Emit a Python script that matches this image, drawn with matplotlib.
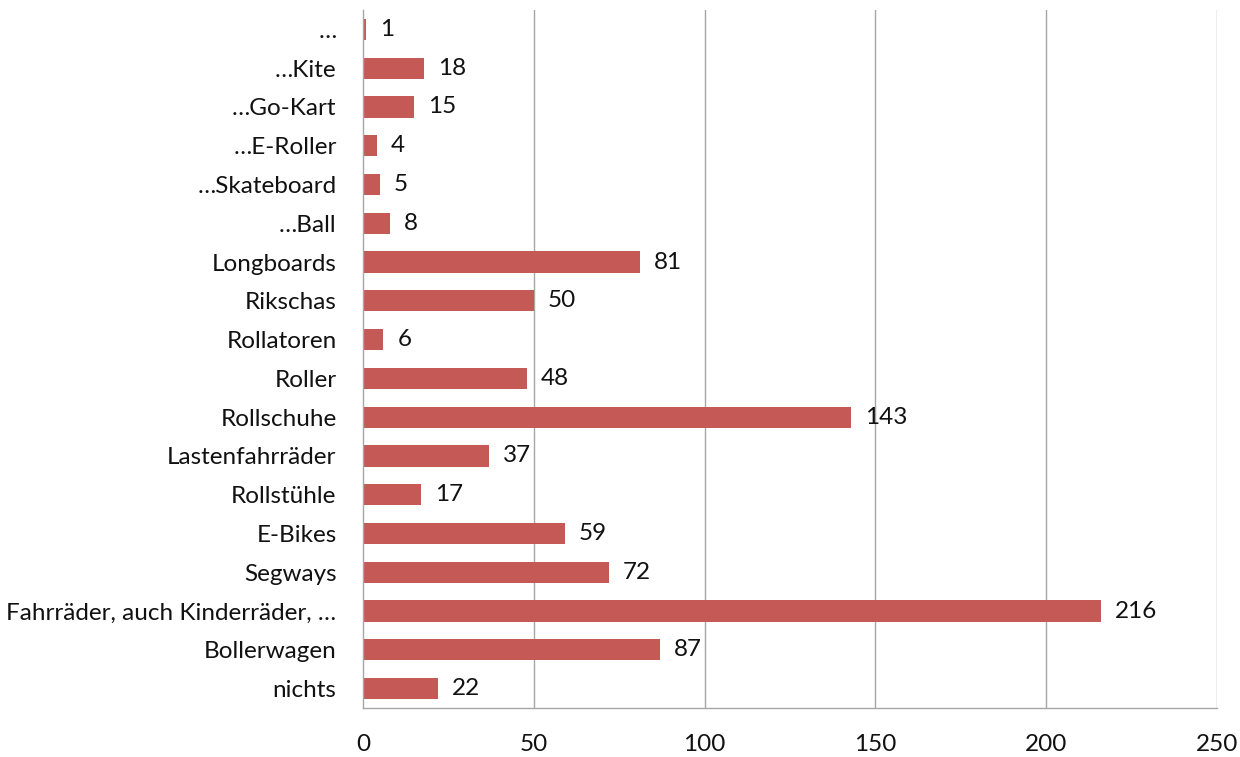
import matplotlib
matplotlib.use("Agg")
import matplotlib.pyplot as plt

categories = [
    "nichts", "Bollerwagen", "Fahrräder, auch Kinderräder, …", "Segways",
    "E-Bikes", "Rollstühle", "Lastenfahrräder", "Rollschuhe", "Roller",
    "Rollatoren", "Rikschas", "Longboards", "…Ball", "…Skateboard",
    "…E-Roller", "…Go-Kart", "…Kite", "…",
]
values = [22, 87, 216, 72, 59, 17, 37, 143, 48, 6, 50, 81, 8, 5, 4, 15, 18, 1]
x_ticks = [0, 50, 100, 150, 200, 250]

plt.rcParams["font.family"] = ["Lato", "DejaVu Sans"]

fig = plt.figure(figsize=(12.4, 7.57), dpi=100)
ax = fig.add_axes([363 / 1240, 1 - 708 / 757, (1217 - 363) / 1240, (708 - 10) / 757])

bar_color = "#C45956"
grid_color = "#A6A6A6"
fs = 17.5

ypos = list(range(len(categories)))
ax.barh(ypos, values, height=0.55, color=bar_color, zorder=3)

for y, v in zip(ypos, values):
    ax.annotate(str(v), xy=(v, y), xytext=(10, 0), textcoords="offset points",
                va="center", ha="left", fontsize=fs, color="#111111")

ax.set_xlim(0, 250)
ax.set_ylim(-0.5, len(categories) - 0.5)
ax.set_xticks(x_ticks)
ax.set_xticklabels([str(t) for t in x_ticks])
ax.set_yticks(ypos)
ax.set_yticklabels(categories)

ax.tick_params(axis="x", length=0, pad=19, labelsize=fs, labelcolor="#111111")
ax.tick_params(axis="y", length=0, pad=19, labelsize=fs, labelcolor="#111111")

for t in x_ticks[1:]:
    ax.axvline(t, color=grid_color, linewidth=1.0, zorder=1)

for side in ["top", "right"]:
    ax.spines[side].set_visible(False)
for side in ["left", "bottom"]:
    ax.spines[side].set_color(grid_color)
    ax.spines[side].set_linewidth(1.0)
    ax.spines[side].set_zorder(4)

fig.savefig("out.png", dpi=100, facecolor="white")
